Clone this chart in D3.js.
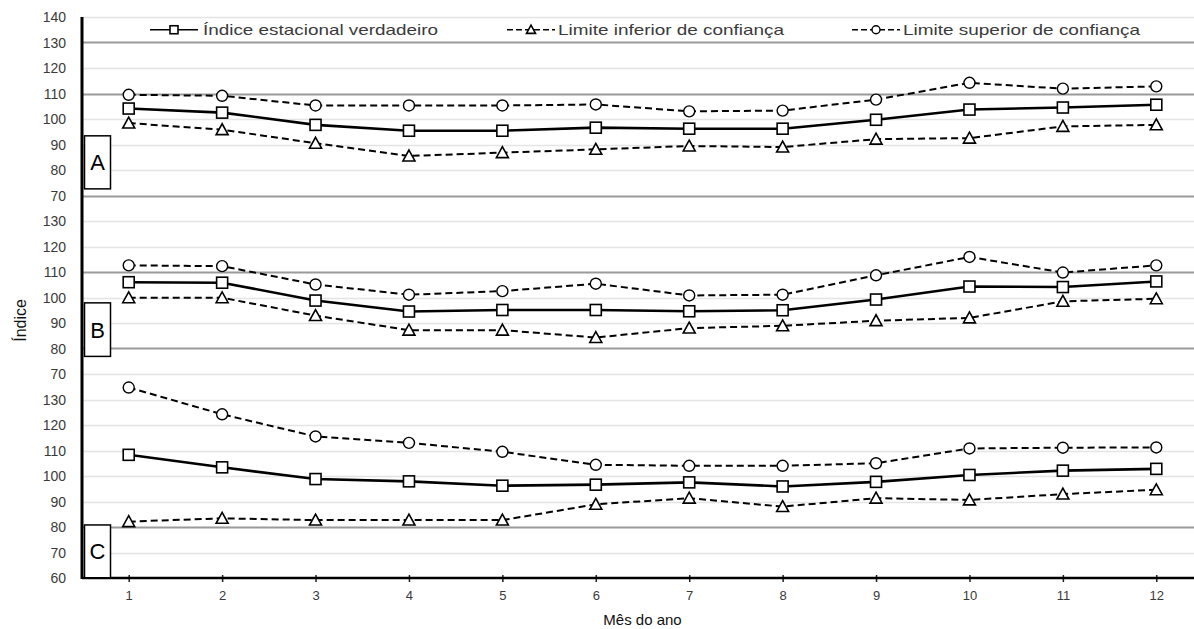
<!DOCTYPE html>
<html>
<head>
<meta charset="utf-8">
<script src="https://cdn.jsdelivr.net/npm/d3@7"></script>
<style>
  body { margin: 0; background: #fff; }
  text { font-family: "Liberation Sans", Arial, sans-serif; }
</style>
</head>
<body>
<div id="chart"></div>
<script>
// months on the x axis
var months = [1, 2, 3, 4, 5, 6, 7, 8, 9, 10, 11, 12];

// panel names and their offset on the stacked y axis
var panels = ["A", "B", "C"];
var panelOffsets = [0, -70, -140];

// index values
var trueA = [104.1, 102.5, 97.7, 95.4, 95.4, 96.6, 96.2, 96.2, 99.7, 103.7, 104.5, 105.6];
var lowerA = [98.4, 95.8, 90.5, 85.5, 86.8, 88.1, 89.4, 89.0, 92.1, 92.5, 97.1, 97.7];
var upperA = [109.5, 109.1, 105.3, 105.3, 105.3, 105.7, 103.0, 103.3, 107.6, 114.2, 111.9, 112.8];

var trueB = [106.0, 105.8, 98.8, 94.5, 95.1, 95.1, 94.6, 95.0, 99.2, 104.3, 104.1, 106.3];
var lowerB = [99.9, 99.9, 92.9, 87.2, 87.2, 84.3, 88.0, 88.9, 90.9, 92.0, 98.5, 99.5];
var upperB = [112.6, 112.3, 105.1, 101.1, 102.5, 105.4, 100.8, 101.1, 108.7, 115.9, 109.8, 112.6];

var trueC = [108.3, 103.4, 98.8, 97.9, 96.2, 96.6, 97.5, 95.9, 97.7, 100.4, 102.1, 102.8];
var lowerC = [82.1, 83.4, 82.7, 82.7, 82.7, 88.9, 91.3, 88.0, 91.3, 90.6, 92.9, 94.6];
var upperC = [134.7, 124.2, 115.5, 113.0, 109.5, 104.4, 104.0, 104.0, 105.0, 110.8, 111.1, 111.2];

// y tick labels of each panel
var ticksA = [140, 130, 120, 110, 100, 90, 80, 70];
var ticksB = [130, 120, 110, 100, 90, 80, 70];
var ticksC = [130, 120, 110, 100, 90, 80, 70, 60];

// panel label box extents (panel units)
var boxTop = [93.4, 97.9, 80.8];
var boxBottom = [72.6, 76.9, 60.1];

var legendLabels = ["Índice estacional verdadeiro", "Limite inferior de confiança", "Limite superior de confiança"];

var svgWidth = 1194;
var svgHeight = 629;

var svg = d3.select("#chart")
    .append("svg")
    .attr("width", svgWidth)
    .attr("height", svgHeight);

var xScale = d3.scaleLinear()
    .domain([0.5, 12.5])
    .range([82, 1203]);

var yScale = d3.scaleLinear()
    .domain([140, -80])
    .range([17, 578]);

var seriesData = [
    { panel: 0, kind: "true", values: trueA },
    { panel: 0, kind: "lower", values: lowerA },
    { panel: 0, kind: "upper", values: upperA },
    { panel: 1, kind: "true", values: trueB },
    { panel: 1, kind: "lower", values: lowerB },
    { panel: 1, kind: "upper", values: upperB },
    { panel: 2, kind: "true", values: trueC },
    { panel: 2, kind: "lower", values: lowerC },
    { panel: 2, kind: "upper", values: upperC }
];

var panelTicks = [ticksA, ticksB, ticksC];
var allTicks = [];
panelTicks.forEach(function(list, i) {
    list.forEach(function(t) {
        allTicks.push({ label: t, pos: t + panelOffsets[i] });
    });
});

// gridlines (some come out darker in the original print)
var darkGrid = [130, 110, 70, 40, 10, -60];

svg.append("g")
    .selectAll("line")
    .data(allTicks.filter(d => d.pos > -80))
    .enter()
    .append("line")
    .attr("x1", xScale(0.5))
    .attr("x2", svgWidth)
    .attr("y1", d => Math.round(yScale(d.pos)) + 0.5)
    .attr("y2", d => Math.round(yScale(d.pos)) + 0.5)
    .attr("stroke", d => darkGrid.indexOf(d.pos) >= 0 ? "#9a9a9a" : "#e4e4e4")
    .attr("stroke-width", d => darkGrid.indexOf(d.pos) >= 0 ? 2 : 1.5);

// y tick labels
svg.append("g")
    .selectAll("text")
    .data(allTicks)
    .enter()
    .append("text")
    .attr("x", 66)
    .attr("y", d => yScale(d.pos) + 5)
    .attr("text-anchor", "end")
    .attr("font-size", "14px")
    .attr("fill", "#3a3a3a")
    .text(d => d.label);

// x axis
var xAxis = d3.axisBottom(xScale)
    .tickValues(months)
    .tickSize(4)
    .tickPadding(9)
    .tickFormat(d3.format("d"));

var xg = svg.append("g")
    .attr("transform", `translate(0, ${yScale(-80)})`)
    .call(xAxis);

xg.select(".domain").remove();
xg.selectAll(".tick line").attr("stroke", "#222").attr("y1", -3).attr("stroke-width", 1.5);
xg.selectAll(".tick text")
    .attr("font-size", "13px")
    .attr("font-family", "Liberation Sans, Arial, sans-serif")
    .attr("fill", "#3a3a3a");

svg.append("line")
    .attr("x1", xScale(0.5))
    .attr("x2", svgWidth)
    .attr("y1", yScale(-80))
    .attr("y2", yScale(-80))
    .attr("stroke", "#000")
    .attr("stroke-width", 2.5);

svg.append("line")
    .attr("x1", xScale(0.5))
    .attr("x2", xScale(0.5))
    .attr("y1", yScale(140))
    .attr("y2", yScale(-80) + 1)
    .attr("stroke", "#000")
    .attr("stroke-width", 3);

// panel label boxes
var boxes = svg.append("g")
    .selectAll("g")
    .data(panels)
    .enter()
    .append("g");

boxes.append("rect")
    .attr("x", 84.5)
    .attr("width", 26)
    .attr("y", (d, i) => yScale(boxTop[i] + panelOffsets[i]))
    .attr("height", (d, i) => yScale(boxBottom[i] + panelOffsets[i]) - yScale(boxTop[i] + panelOffsets[i]))
    .attr("fill", "#fff")
    .attr("stroke", "#000")
    .attr("stroke-width", 1.5);

boxes.append("text")
    .attr("x", 97.5)
    .attr("y", (d, i) => (yScale(boxTop[i] + panelOffsets[i]) + yScale(boxBottom[i] + panelOffsets[i])) / 2 + 8)
    .attr("text-anchor", "middle")
    .attr("font-size", "22px")
    .attr("fill", "#000")
    .text(d => d);

// lines
var line = d3.line()
    .x((d, i) => xScale(months[i]))
    .y(d => d.y);

function drawMarker(sel, kind, size) {
    if (kind === "true") {
        sel.append("rect")
            .attr("x", -size / 2)
            .attr("y", -size / 2)
            .attr("width", size)
            .attr("height", size)
            .attr("fill", "#fff")
            .attr("stroke", "#000")
            .attr("stroke-width", 1.6);
    } else if (kind === "lower") {
        var h = size * 0.9;
        sel.append("path")
            .attr("d", `M0,${-h / 2 - 1} L${size / 2 + 0.5},${h / 2} L${-size / 2 - 0.5},${h / 2} Z`)
            .attr("fill", "#fff")
            .attr("stroke", "#000")
            .attr("stroke-width", 1.6);
    } else {
        sel.append("circle")
            .attr("r", size / 2)
            .attr("fill", "#fff")
            .attr("stroke", "#000")
            .attr("stroke-width", 1.4);
    }
}

seriesData.forEach(function(s) {
    var pts = s.values.map(v => ({ y: yScale(v + panelOffsets[s.panel]) }));
    svg.append("path")
        .datum(pts)
        .attr("d", line)
        .attr("fill", "none")
        .attr("stroke", "#000")
        .attr("stroke-width", s.kind === "true" ? 2.6 : 2)
        .attr("stroke-dasharray", s.kind === "true" ? null : "7,4");
});

seriesData.forEach(function(s) {
    svg.append("g")
        .selectAll("g")
        .data(s.values)
        .enter()
        .append("g")
        .attr("transform", (d, i) => `translate(${xScale(months[i])}, ${yScale(d + panelOffsets[s.panel])})`)
        .each(function() { drawMarker(d3.select(this), s.kind, 11); });
});

// legend
var legendX = [150, 507, 852];
var legendKinds = ["true", "lower", "upper"];
var legendWidths = [235, 226, 237];
var legendY = (yScale(140) + yScale(130)) / 2;

var legend = svg.append("g")
    .selectAll("g")
    .data(legendLabels)
    .enter()
    .append("g")
    .attr("transform", (d, i) => `translate(${legendX[i]}, ${legendY})`);

legend.append("line")
    .attr("x1", 0)
    .attr("x2", 48)
    .attr("stroke", "#000")
    .attr("stroke-width", 1.6)
    .attr("stroke-dasharray", (d, i) => i === 0 ? null : "6,3");

legend.append("g")
    .attr("transform", "translate(24,0)")
    .each(function(d, i) { drawMarker(d3.select(this), legendKinds[i], 8); });

legend.append("text")
    .attr("x", (d, i) => i === 0 ? 53 : 51)
    .attr("y", 5)
    .attr("font-size", "15px")
    .attr("fill", "#3a3a3a")
    .attr("textLength", (d, i) => legendWidths[i])
    .attr("lengthAdjust", "spacingAndGlyphs")
    .text(d => d);

// axis titles
svg.append("text")
    .attr("transform", `translate(26, ${yScale(21)}) rotate(-90)`)
    .attr("text-anchor", "middle")
    .attr("font-size", "16px")
    .attr("fill", "#111")
    .text("Índice");

svg.append("text")
    .attr("x", (xScale(1) + xScale(12)) / 2)
    .attr("y", 625)
    .attr("text-anchor", "middle")
    .attr("font-size", "15px")
    .attr("fill", "#111")
    .text("Mês do ano");
</script>
</body>
</html>
